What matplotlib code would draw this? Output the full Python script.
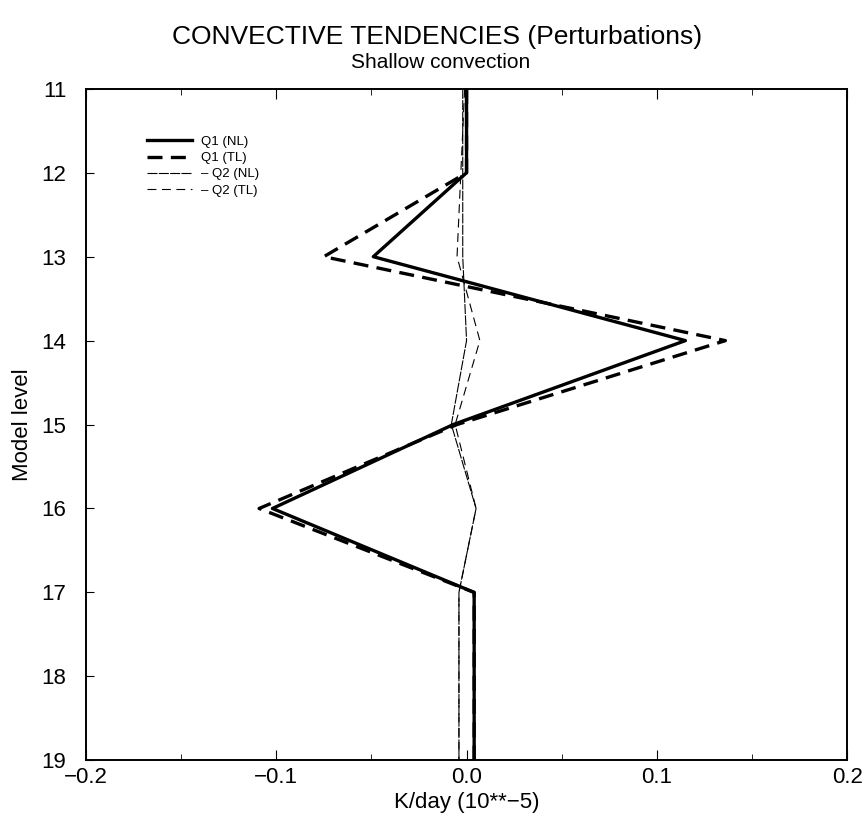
import matplotlib
matplotlib.use("Agg")
import matplotlib.pyplot as plt
from matplotlib.ticker import MultipleLocator

plt.rcParams['font.family'] = ['Liberation Sans', 'DejaVu Sans']

# model levels (11 = top, 19 = bottom)
levels = [11, 12, 13, 14, 15, 16, 17, 18, 19]

# tendencies in K/day (10**-5)
q1_nl = [0.0, 0.0, -0.049, 0.115, -0.007, -0.102, 0.004, 0.004, 0.004]
q1_tl = [0.0, 0.0, -0.075, 0.136, -0.005, -0.109, 0.004, 0.004, 0.004]
q2_nl = [-0.002, -0.002, -0.002, 0.0, -0.008, 0.005, -0.004, -0.004, -0.004]
q2_tl = [-0.001, -0.003, -0.005, 0.007, -0.006, 0.005, -0.004, -0.004, -0.004]

xticks = [-0.2, -0.1, 0.0, 0.1, 0.2]
xtick_labels = ['\u22120.2', '\u22120.1', '0.0', '0.1', '0.2']

fig = plt.figure(figsize=(8.68, 8.30), dpi=100)
ax = fig.add_axes([0.099, 0.084, 0.877, 0.809])

ax.plot(q1_nl, levels, color='black', lw=2.4, ls='-', label='Q1 (NL)')
ax.plot(q1_tl, levels, color='black', lw=2.4, ls=(0, (4.5, 2.5)), label='Q1 (TL)')
ax.plot(q2_nl, levels, color='black', lw=0.8, ls=(0, (9, 1.2)), label='\u2013 Q2 (NL)')
ax.plot(q2_tl, levels, color='black', lw=0.8, ls=(0, (8, 5)), label='\u2013 Q2 (TL)')

ax.set_xlim(-0.2, 0.2)
ax.set_ylim(19, 11)
ax.set_xticks(xticks)
ax.set_xticklabels(xtick_labels)
ax.xaxis.set_minor_locator(MultipleLocator(0.05))
ax.set_yticks(levels)

ax.tick_params(axis='x', which='both', direction='in', top=True, labelsize=16, pad=5)
ax.tick_params(axis='x', which='major', length=7)
ax.tick_params(axis='x', which='minor', length=4)
ax.tick_params(axis='y', direction='in', length=6, labelsize=16, pad=14)
for side in ax.spines.values():
    side.set_linewidth(1.4)

ax.set_xlabel('K/day (10**\u22125)', fontsize=16, labelpad=3)
ax.set_ylabel('Model level', fontsize=16, labelpad=6)

fig.text(0.503, 0.955, 'CONVECTIVE TENDENCIES (Perturbations)', ha='center', va='center', fontsize=19)
fig.text(0.508, 0.925, 'Shallow convection', ha='center', va='center', fontsize=15)

ax.legend(loc='upper left', bbox_to_anchor=(0.08, 0.93), frameon=False,
          fontsize=9.5, handlelength=3.4, handletextpad=0.7, labelspacing=0.3,
          borderpad=0, borderaxespad=0)

fig.savefig('out.png', dpi=100)
